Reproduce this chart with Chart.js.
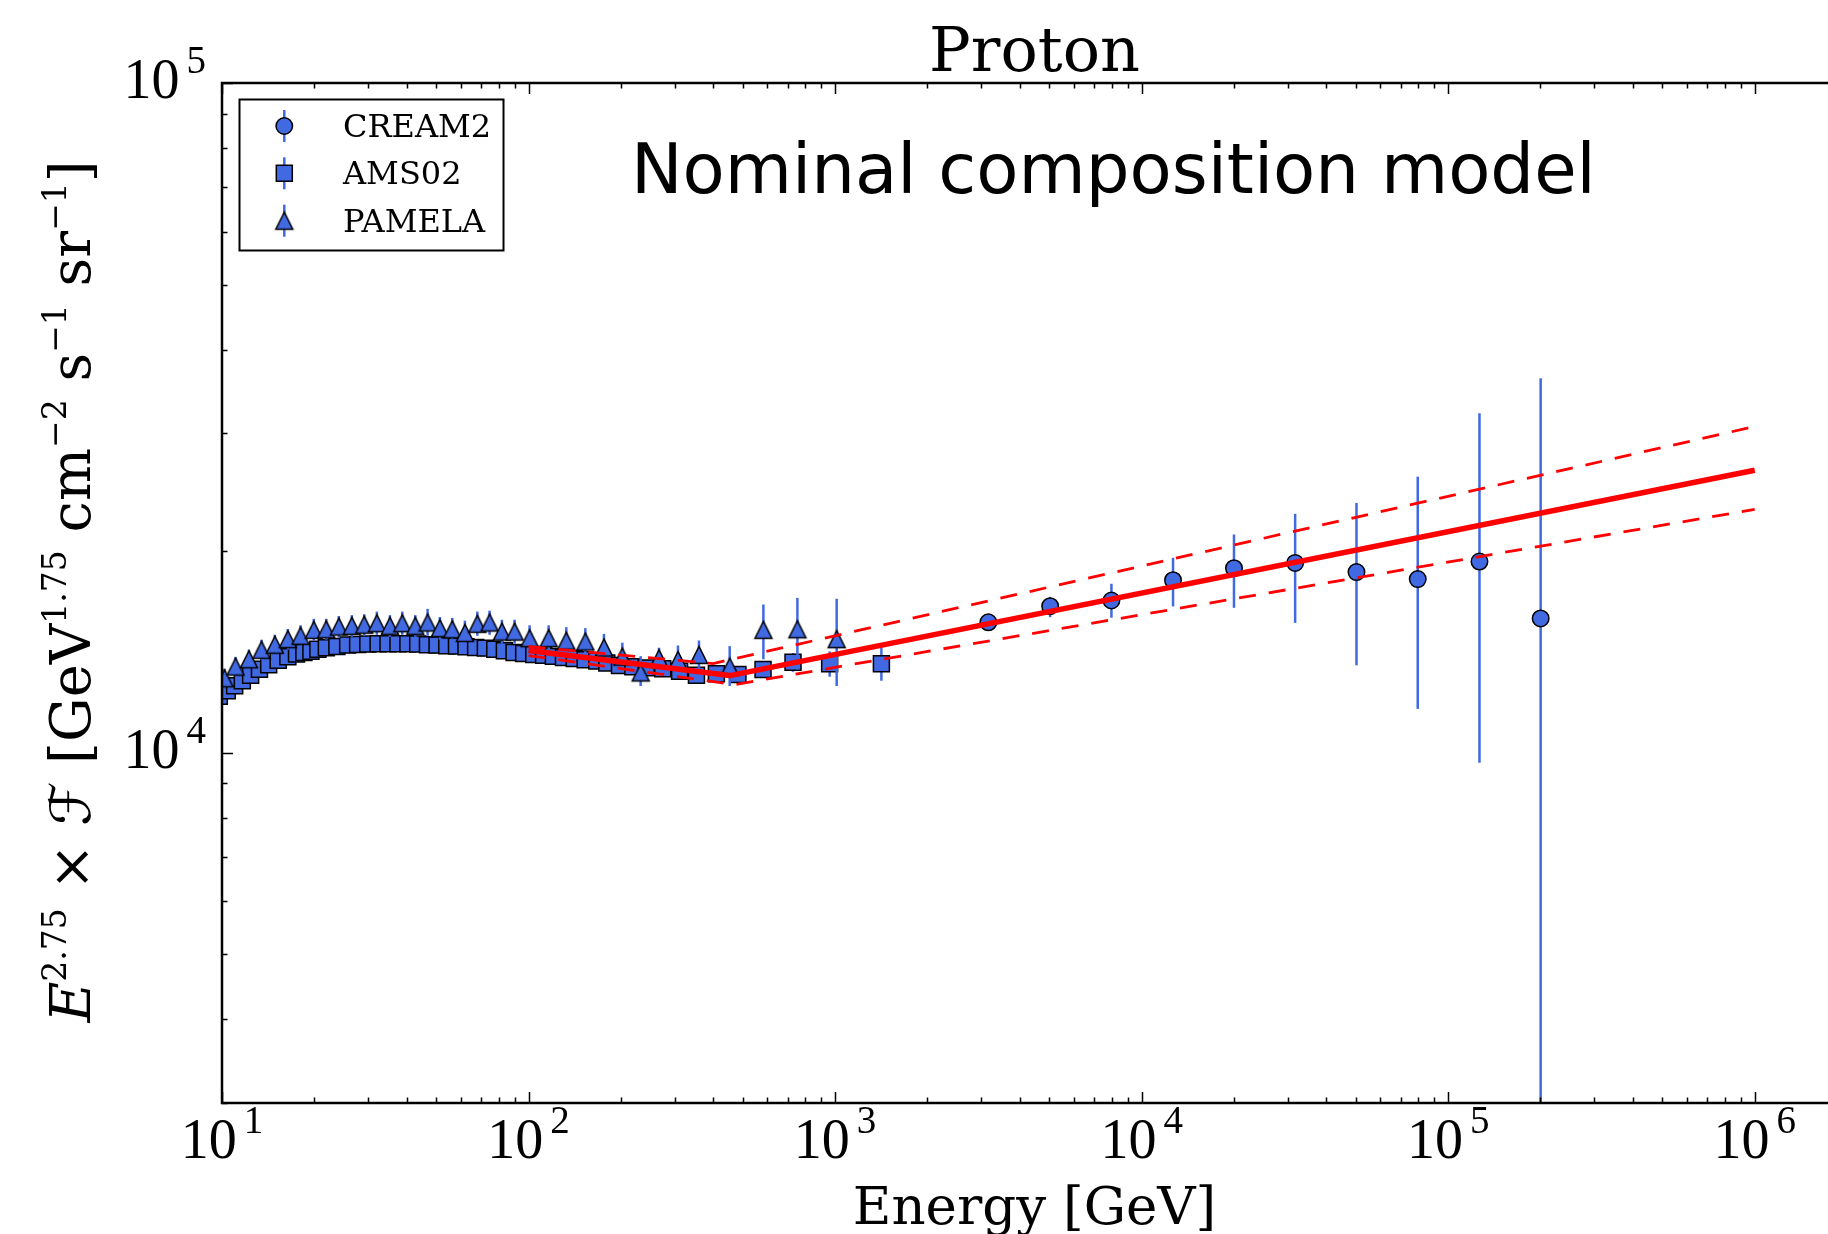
<!DOCTYPE html>
<html><head><meta charset="utf-8">
<script src="https://cdn.jsdelivr.net/npm/chart.js@4/dist/chart.umd.min.js"></script>
<style>
html,body{margin:0;padding:0;overflow:hidden;background:#fff;}
#wrap{position:relative;width:1850px;height:1234px;}
</style></head><body>
<div id="wrap"><canvas id="c" width="1850" height="1234"></canvas></div>
<script>
// ---------------- data ----------------
const creamE  = [3162, 5030, 7970, 12660, 20010, 31680, 50220, 79560, 126500, 200300];
const creamF  = [15660, 16550, 16880, 18100, 18860, 19210, 18610, 18170, 19300, 15870];
const creamLo = [15400, 15940, 15910, 16540, 16460, 15630, 13510, 11630, 9665, 1000];
const creamHi = [15920, 17090, 17880, 19550, 21180, 22740, 23610, 25840, 32120, 36230];

const amsE = [9.8, 10.4, 11.0, 11.65, 12.4, 13.25, 14.2, 15.25, 16.4, 17.5, 18.5, 19.5, 20.55, 21.9, 23.7, 25.7, 27.7, 29.9, 32.3, 34.8, 37.5, 40.4, 43.5, 46.8, 50.3, 54.1, 58.2, 62.5, 67.2, 72.3, 77.6, 83.4, 89.7, 96.4, 104, 112, 120.5, 130, 141, 153, 167, 180, 198, 219, 242, 274, 311, 353, 410, 482, 582, 729, 960, 1416];
const amsF = [12150, 12380, 12590, 12810, 13050, 13330, 13530, 13750, 13910, 14040, 14120, 14180, 14280, 14350, 14410, 14480, 14510, 14530, 14550, 14550, 14550, 14550, 14530, 14500, 14480, 14450, 14430, 14400, 14360, 14330, 14280, 14200, 14120, 14070, 14020, 13980, 13930, 13880, 13830, 13770, 13710, 13620, 13500, 13440, 13390, 13350, 13240, 13050, 13120, 13090, 13310, 13650, 13580, 13580];
const amsErr = [180, 180, 180, 180, 180, 180, 180, 180, 180, 180, 180, 180, 180, 180, 180, 180, 180, 180, 180, 180, 180, 180, 180, 180, 180, 180, 190, 190, 190, 190, 200, 200, 200, 200, 210, 210, 210, 220, 220, 220, 230, 230, 240, 250, 250, 260, 270, 280, 300, 330, 250, 440, 590, 770];

const pamE = [10.19, 11.07, 12.24, 13.46, 14.87, 16.40, 18.04, 19.93, 21.88, 24.05, 26.52, 29.11, 32.00, 35.29, 38.73, 42.71, 46.84, 51.37, 56.39, 61.99, 68.06, 74.63, 81.87, 90.05, 100.8, 116.3, 132.8, 153.2, 176.2, 202.3, 232.1, 266.4, 307.2, 359.7, 453.1, 583.6, 753.4, 1012];
const pamF = [12920, 13450, 13790, 14250, 14500, 14780, 14950, 15260, 15290, 15430, 15470, 15530, 15610, 15470, 15610, 15470, 15650, 15350, 15290, 15100, 15580, 15650, 15170, 15170, 14830, 14830, 14700, 14660, 14360, 13920, 13180, 13840, 13760, 14000, 13450, 15260, 15290, 14780];
const pamLo = [12500, 13000, 13300, 13750, 14000, 14250, 14400, 14700, 14750, 14850, 14900, 14950, 15000, 14900, 15000, 14900, 14950, 14750, 14700, 14500, 14950, 15000, 14550, 14550, 14200, 14200, 14050, 14000, 13700, 13250, 12580, 13340, 13080, 13300, 12580, 13790, 13310, 12580];
const pamHi = [13350, 13900, 14250, 14750, 15000, 15300, 15500, 15850, 15850, 16000, 16050, 16100, 16250, 16050, 16250, 16050, 16400, 15950, 15900, 15750, 16250, 16300, 15800, 15800, 15500, 15500, 15400, 15350, 15050, 14600, 13940, 14350, 14460, 14710, 14430, 16650, 17030, 16980];

const modelE = [100, 453, 1e6];
const modelF = [14210, 13040, 26410];
const upperE = [100, 400, 1e6];
const upperF = [14410, 13590, 30700];
const lowerE = [100, 470, 1e6];
const lowerF = [13970, 12640, 23090];

const xTickExps = [1, 2, 3, 4, 5, 6];
const yTickExps = [4, 5];
const seriesNames = ['CREAM2', 'AMS02', 'PAMELA'];
// -------------------------------------------------------------

const BLUE = '#4169e1';
const RED = '#ff0000';

function makeTri() {
  const c = document.createElement('canvas'); c.width = 22; c.height = 22;
  const g = c.getContext('2d');
  g.beginPath(); g.moveTo(11, 2.5); g.lineTo(2.5, 19.5); g.lineTo(19.5, 19.5); g.closePath();
  g.fillStyle = BLUE; g.fill(); g.lineWidth = 1.5; g.strokeStyle = '#000'; g.stroke();
  return c;
}
const triImg = makeTri();

const pts = (xs, ys) => xs.map((v, i) => ({x: v, y: ys[i]}));

const errPlugin = {
  id: 'errbars',
  beforeDatasetDraw(chart, args) {
    const ds = chart.data.datasets[args.index];
    if (!ds.errLo) return;
    const {ctx, chartArea: a, scales: {x, y}} = chart;
    ctx.save();
    ctx.beginPath(); ctx.rect(a.left, a.top, a.right - a.left, a.bottom - a.top); ctx.clip();
    ctx.strokeStyle = BLUE; ctx.lineWidth = 2.5;
    ds.data.forEach((p, i) => {
      const px = x.getPixelForValue(p.x);
      ctx.beginPath();
      ctx.moveTo(px, y.getPixelForValue(Math.max(ds.errLo[i], 1)));
      ctx.lineTo(px, y.getPixelForValue(ds.errHi[i]));
      ctx.stroke();
    });
    ctx.restore();
  }
};

function logTicks(min, max) {
  const out = [];
  for (let e = Math.floor(Math.log10(min)); e <= Math.ceil(Math.log10(max)); e++) {
    for (let m = 1; m < 10; m++) {
      const v = m * Math.pow(10, e);
      if (v >= min * 0.9999 && v <= max * 1.0001) out.push({v, major: m === 1});
    }
  }
  return out;
}

const TICK_FS = 56, SUP_FS = 39, SUP_RAISE = 25;
function pow10Label(ctx, exp, x, baseline, align) {
  ctx.font = TICK_FS + 'px "Liberation Serif"';
  const w10 = ctx.measureText('10').width;
  ctx.font = SUP_FS + 'px "Liberation Serif"';
  const ws = ctx.measureText(String(exp)).width;
  const gap = 7;
  const total = w10 + gap + ws;
  const left = align === 'center' ? x - total / 2 : x - total;
  ctx.textAlign = 'left'; ctx.textBaseline = 'alphabetic';
  ctx.font = TICK_FS + 'px "Liberation Serif"';
  ctx.fillText('10', left, baseline);
  ctx.font = SUP_FS + 'px "Liberation Serif"';
  ctx.fillText(String(exp), left + w10 + gap, baseline - SUP_RAISE);
}

const axesPlugin = {
  id: 'axesDeco',
  afterDatasetsDraw(chart) {
    const {ctx, chartArea: a, scales: {x, y}} = chart;
    ctx.save();
    ctx.strokeStyle = '#000';
    ctx.lineWidth = 1.5;
    logTicks(x.min, x.max).forEach(t => {
      const px = Math.round(x.getPixelForValue(t.v)) + 0.5;
      const L = t.major ? 11 : 5.5;
      ctx.beginPath();
      ctx.moveTo(px, a.bottom); ctx.lineTo(px, a.bottom - L);
      ctx.moveTo(px, a.top); ctx.lineTo(px, a.top + L);
      ctx.stroke();
    });
    logTicks(y.min, y.max).forEach(t => {
      const py = Math.round(y.getPixelForValue(t.v)) + 0.5;
      const L = t.major ? 11 : 5.5;
      ctx.beginPath();
      ctx.moveTo(a.left, py); ctx.lineTo(a.left + L, py);
      ctx.moveTo(a.right, py); ctx.lineTo(a.right - L, py);
      ctx.stroke();
    });
    ctx.lineWidth = 2.5;
    ctx.strokeRect(a.left, a.top, a.right - a.left, a.bottom - a.top);
    ctx.restore();
  },
  afterDraw(chart) {
    const {ctx, chartArea: a, scales: {x, y}} = chart;
    ctx.save();
    ctx.fillStyle = '#000';
    xTickExps.forEach(e => pow10Label(ctx, e, x.getPixelForValue(Math.pow(10, e)), a.bottom + 55, 'center'));
    yTickExps.forEach(e => pow10Label(ctx, e, a.left - 16, y.getPixelForValue(Math.pow(10, e)) + 15, 'right'));

    const cx = (a.left + a.right) / 2;
    ctx.font = '62px "DejaVu Serif"'; ctx.textAlign = 'center'; ctx.textBaseline = 'alphabetic';
    ctx.fillText('Proton', cx, 71);
    ctx.font = '53px "DejaVu Serif"';
    ctx.fillText('Energy [GeV]', cx, 1224);
    ctx.font = '69px "DejaVu Sans"'; ctx.textAlign = 'left';
    ctx.fillText('Nominal composition model', 631, 193);

    const S = 56, SS = 33, RAISE = 24;
    const pieces = [
      {t: 'E', f: 'italic ' + S + 'px "DejaVu Serif"', r: 0},
      {t: '2.75', f: SS + 'px "DejaVu Serif"', r: RAISE},
      {t: ' \u00d7 ', f: S + 'px "DejaVu Serif"', r: 0},
      {t: '\u2131', f: S + 'px "DejaVu Sans"', r: 0},
      {t: ' [GeV', f: S + 'px "DejaVu Serif"', r: 0},
      {t: '1.75', f: SS + 'px "DejaVu Serif"', r: RAISE},
      {t: ' cm', f: S + 'px "DejaVu Serif"', r: 0},
      {t: '\u22122', f: SS + 'px "DejaVu Serif"', r: RAISE},
      {t: ' s', f: S + 'px "DejaVu Serif"', r: 0},
      {t: '\u22121', f: SS + 'px "DejaVu Serif"', r: RAISE},
      {t: ' sr', f: S + 'px "DejaVu Serif"', r: 0},
      {t: '\u22121', f: SS + 'px "DejaVu Serif"', r: RAISE},
      {t: ']', f: S + 'px "DejaVu Serif"', r: 0}
    ];
    let total = 0;
    pieces.forEach(p => { ctx.font = p.f; p.w = ctx.measureText(p.t).width; total += p.w; });
    ctx.translate(90, 591.5 + total / 2);
    ctx.rotate(-Math.PI / 2);
    ctx.textAlign = 'left';
    let pos = 0;
    pieces.forEach(p => { ctx.font = p.f; ctx.fillText(p.t, pos, -p.r); pos += p.w; });
    ctx.restore();

    // legend
    ctx.save();
    ctx.fillStyle = '#fff'; ctx.fillRect(239.5, 99.5, 264, 151);
    ctx.strokeStyle = '#000'; ctx.lineWidth = 2; ctx.strokeRect(239.5, 99.5, 264, 151);
    const rows = [126, 173.3, 220.7];
    const dsets = chart.data.datasets;
    rows.forEach((ry, i) => {
      const mx = 284.3;
      ctx.strokeStyle = BLUE; ctx.lineWidth = 2.5;
      ctx.beginPath(); ctx.moveTo(mx, ry - 16); ctx.lineTo(mx, ry + 16); ctx.stroke();
      const d = dsets[i];
      ctx.fillStyle = BLUE; ctx.strokeStyle = '#000'; ctx.lineWidth = 1.5;
      if (d.pointStyle === triImg) {
        ctx.drawImage(triImg, mx - triImg.width / 2, ry - triImg.height / 2);
      } else {
        ctx.beginPath();
        if (d.pointStyle === 'circle') ctx.arc(mx, ry, d.pointRadius, 0, Math.PI * 2);
        else { const s = d.pointRadius * Math.SQRT1_2; ctx.rect(mx - s, ry - s, 2 * s, 2 * s); }
        ctx.fill(); ctx.stroke();
      }
      ctx.fillStyle = '#000';
      ctx.font = '32px "DejaVu Serif"'; ctx.textAlign = 'left'; ctx.textBaseline = 'alphabetic';
      ctx.fillText(seriesNames[i], 343, ry + 11);
    });
    ctx.restore();
  }
};

const markerBase = {backgroundColor: BLUE, borderColor: '#000', borderWidth: 1.5, clip: 0};

new Chart(document.getElementById('c'), {
  type: 'scatter',
  data: {
    datasets: [
      Object.assign({label: seriesNames[0], data: pts(creamE, creamF), errLo: creamLo, errHi: creamHi,
        pointStyle: 'circle', pointRadius: 8.25, order: 3}, markerBase),
      Object.assign({label: seriesNames[1], data: pts(amsE, amsF),
        errLo: amsF.map((v, i) => v - amsErr[i]), errHi: amsF.map((v, i) => v + amsErr[i]),
        pointStyle: 'rect', pointRadius: 11.3, order: 2}, markerBase),
      Object.assign({label: seriesNames[2], data: pts(pamE, pamF), errLo: pamLo, errHi: pamHi,
        pointStyle: triImg, pointRadius: 8, order: 1}, markerBase),
      {type: 'line', label: 'model', data: pts(modelE, modelF), borderColor: RED, borderWidth: 5.5,
        pointRadius: 0, fill: false, tension: 0, order: 0, clip: 0, borderJoinStyle: 'round'},
      {type: 'line', label: 'upper', data: pts(upperE, upperF), borderColor: RED, borderWidth: 2.8,
        borderDash: [17, 13], pointRadius: 0, fill: false, tension: 0, order: 0, clip: 0},
      {type: 'line', label: 'lower', data: pts(lowerE, lowerF), borderColor: RED, borderWidth: 2.8,
        borderDash: [17, 13], pointRadius: 0, fill: false, tension: 0, order: 0, clip: 0}
    ]
  },
  options: {
    responsive: false, animation: false, devicePixelRatio: 1,
    layout: {autoPadding: false, padding: {left: 222, top: 83, right: 3, bottom: 131}},
    scales: {
      x: {type: 'logarithmic', min: 10, max: 2e6, bounds: 'data',
        ticks: {display: false}, grid: {display: false, drawTicks: false}, border: {display: false}},
      y: {type: 'logarithmic', min: 3000, max: 1e5, bounds: 'data',
        ticks: {display: false}, grid: {display: false, drawTicks: false}, border: {display: false}}
    },
    plugins: {legend: {display: false}, tooltip: {enabled: false}, title: {display: false}}
  },
  plugins: [errPlugin, axesPlugin]
});
</script>
</body></html>
